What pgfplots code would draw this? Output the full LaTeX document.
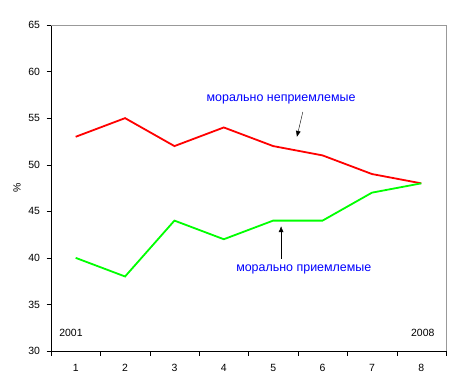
\documentclass[border=0pt]{standalone}
\usepackage{fontspec}
\setmainfont{Liberation Sans}
\usepackage{pgfplots}
\pgfplotsset{compat=1.18}
\usetikzlibrary{arrows.meta}
\definecolor{lred}{HTML}{FF0000}
\definecolor{lgreen}{HTML}{00FF00}
\definecolor{lblue}{HTML}{0000FF}
\begin{document}
\begin{tikzpicture}[x=1bp,y=1bp]
\path[use as bounding box] (0,0) rectangle (460,383);
\begin{axis}[
  at={(51bp,32bp)}, anchor=south west,
  scale only axis, width=395bp, height=326bp,
  xmin=0.5, xmax=8.5, ymin=30, ymax=65,
  axis lines=left, axis line style={-,black},
  xtick={1,...,8}, ytick={30,35,...,65},
  minor xtick={0.5,1.5,...,8.5},
  major x tick style={draw=none},
  minor x tick style={black},
  tick align=outside,
  major tick length=4.5bp, minor tick length=4.5bp,
  y tick style={black},
  tick label style={font=\fontsize{10.5}{12}\selectfont},
  /pgf/number format/assume math mode=true,
  xticklabel style={yshift=-5bp},
  yticklabel style={xshift=-3bp},
  ylabel={\%}, ylabel style={font=\fontsize{10.5}{12}\selectfont, at={(axis description cs:-0.086,0.5)}, anchor=center},
  clip=false,
]
\draw[gray!80] (rel axis cs:0,1) -- (rel axis cs:1,1) -- (rel axis cs:1,0);
\addplot[lred, line width=1.8bp] coordinates {(1,53) (2,55) (3,52) (4,54) (5,52) (6,51) (7,49) (8,48)};
\addplot[lgreen, line width=1.8bp] coordinates {(1,40) (2,38) (3,44) (4,42) (5,44) (6,44) (7,47) (8,48)};
\node[lblue, font=\fontsize{12.5}{14}\selectfont] at (axis cs:5.16,57.06) {морально неприемлемые};
\node[lblue, font=\fontsize{12.5}{14}\selectfont] at (axis cs:5.62,38.8) {морально приемлемые};
\draw[-{Latex[length=6bp,width=5bp]}, black] (axis cs:5.60,55.66) -- (axis cs:5.48,52.98);
\draw[-{Latex[length=6bp,width=5bp]}, black] (axis cs:5.16,39.9) -- (axis cs:5.16,43.4);
\node[font=\fontsize{10.5}{12}\selectfont] at (axis cs:0.905,31.9) {2001};
\node[font=\fontsize{10.5}{12}\selectfont] at (axis cs:8.03,31.9) {2008};
\end{axis}
\end{tikzpicture}
\end{document}
